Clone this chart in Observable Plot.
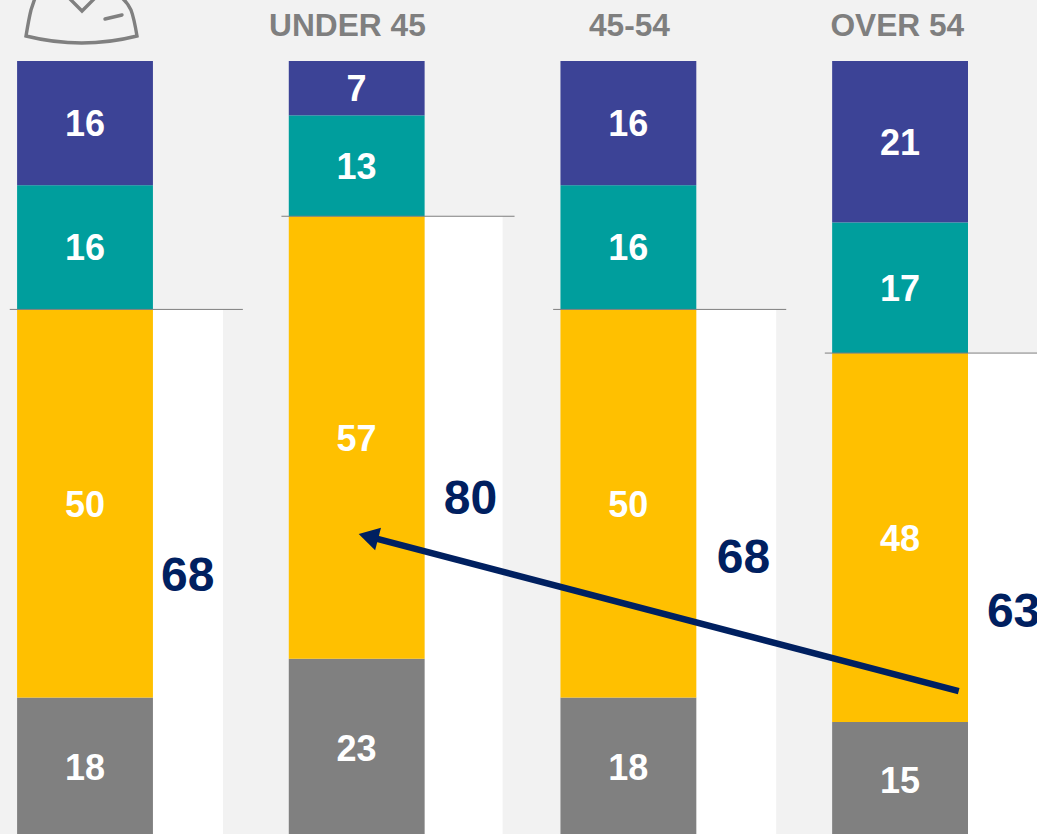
<!DOCTYPE html>
<html>
<head>
<meta charset="utf-8">
<style>
html,body{margin:0;padding:0;background:#f2f2f2;overflow:hidden}
svg{display:block}
</style>
<script src="https://cdn.jsdelivr.net/npm/d3@7"></script>
<script src="https://cdn.jsdelivr.net/npm/@observablehq/plot@0.6"></script>
</head>
<body>
<script>
const headers = ["", "UNDER 45", "45-54", "OVER 54"];
const groupsIdx = [0, 1, 2, 3];
const seriesNames = ["grey", "yellow", "teal", "blue"];
const greyVals = [18, 23, 18, 15];
const yellowVals = [50, 57, 50, 48];
const tealVals = [16, 13, 16, 17];
const blueVals = [16, 7, 16, 21];
const totals = [68, 80, 68, 63];
const seriesColors = ["#808080", "#FFC000", "#009E9D", "#3C4396"];

// layout, in scale units
const totalLabelX = [0.376, 0.417, 0.422, 0.416];
const totalLabelY = [33.8, 43.7, 36.1, 29.1];
const headerX = [0, -0.036, 0.002, -0.012];
const panelEnd = [0.508, 0.537, 0.544, 0.6];
const arrowFrom = {x: 3.214, y: 18.9};
const arrowTo = {x: 1.053, y: 38.7};

const series = [greyVals, yellowVals, tealVals, blueVals];
const segments = [];
const tops = [];
groupsIdx.forEach(i => {
  const sum = d3.sum(series, s => s[i]);
  let acc = 0;
  series.forEach((s, k) => {
    const y1 = acc / sum * 100;
    acc += s[i];
    const y2 = acc / sum * 100;
    segments.push({i, name: seriesNames[k], value: s[i], y1, y2});
    if (k === 1) tops.push(y2);
  });
});

const font = "'Liberation Sans', Arial, sans-serif";
const iconMark = () => {
  const g = d3.create("svg:g")
    .attr("fill", "none").attr("stroke", "#808080").attr("stroke-width", 3.4)
    .attr("stroke-linecap", "round");
  g.append("path").attr("d", "M35,-2L31,10Q29,18 26,36Q82,50 137,36Q134,18 131,10Q127,2 122,-2");
  g.append("path").attr("d", "M69,-2L82,11L95,-2");
  g.append("path").attr("d", "M105,19L122,15");
  return g.node();
};

const chart = Plot.plot({
  width: 1037,
  height: 834,
  margin: 0,
  style: {background: "#f2f2f2", fontFamily: font},
  x: {domain: [-0.3129, 3.504], range: [0, 1037], axis: null},
  y: {domain: [0.425, 107.858], range: [834, 0], axis: null},
  marks: [
    Plot.rect(groupsIdx, {
      x1: i => i + 0.25, x2: i => i + panelEnd[i],
      y1: 0, y2: i => tops[i], fill: "white"
    }),
    Plot.rect(segments, {
      x1: d => d.i - 0.25, x2: d => d.i + 0.25,
      y1: "y1", y2: "y2",
      fill: d => seriesColors[seriesNames.indexOf(d.name)]
    }),
    Plot.ruleY(groupsIdx, {
      y: i => tops[i], x1: i => i - 0.277, x2: i => i + 0.581,
      stroke: "#7f7f7f", strokeWidth: 1, dy: -0.5
    }),
    Plot.text(segments, {
      x: "i", y: d => (d.y1 + d.y2) / 2, text: d => String(d.value),
      fill: "white", fontSize: 36, fontWeight: "bold", dx: -0.6, dy: 1
    }),
    Plot.text(groupsIdx, {
      x: i => i + totalLabelX[i], y: i => totalLabelY[i], text: i => String(totals[i]),
      fill: "#002060", fontSize: 48, fontWeight: "bold"
    }),
    Plot.text(groupsIdx, {
      x: i => i + headerX[i], y: 104.6, text: i => headers[i],
      fill: "#7f7f7f", fontSize: 31.7, fontWeight: "bold"
    }),
    Plot.line([arrowFrom, arrowTo], {
      x: "x", y: "y", stroke: "#002060", strokeWidth: 6.5, strokeLinecap: "butt"
    }),
    Plot.dot([arrowTo], {
      x: "x", y: "y", symbol: "triangle", r: 8.6, rotate: -75.3,
      fill: "#002060", stroke: "none"
    }),
    iconMark
  ]
});
document.body.appendChild(chart);
</script>
</body>
</html>
